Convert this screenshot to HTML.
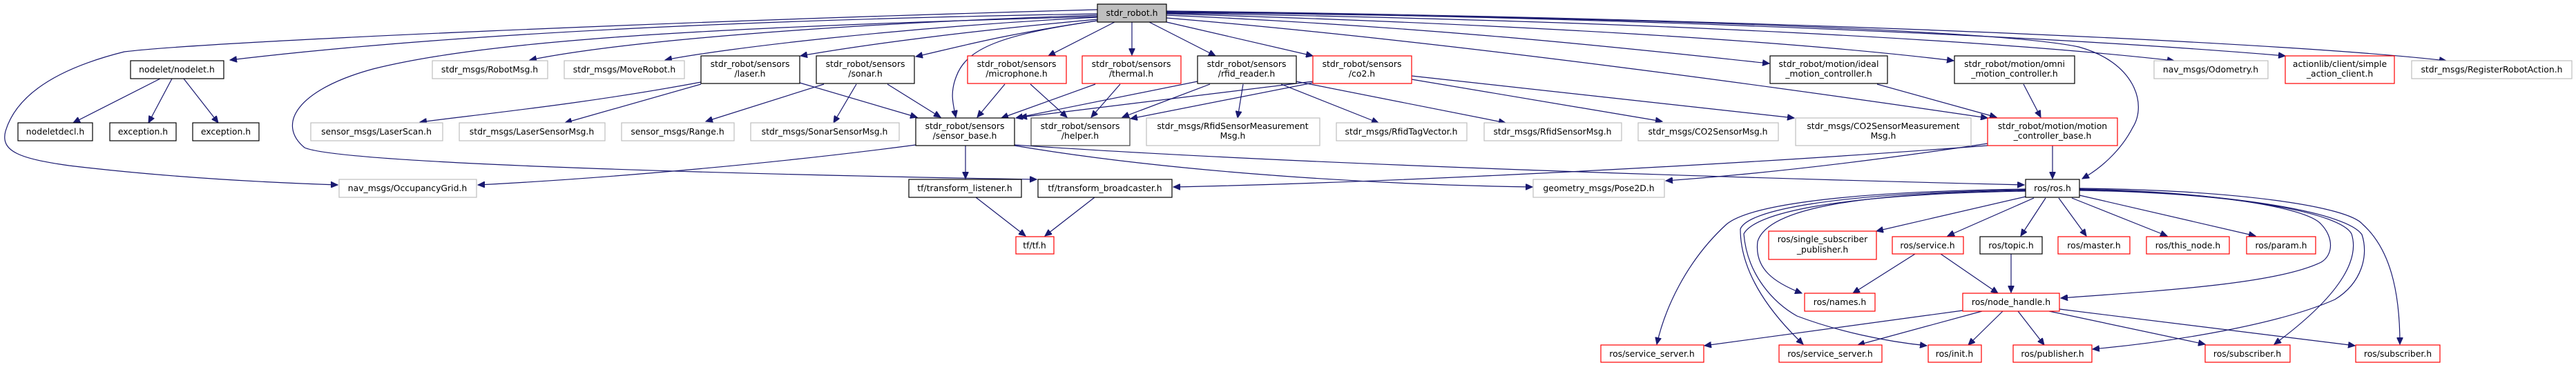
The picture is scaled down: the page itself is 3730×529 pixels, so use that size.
<!DOCTYPE html>
<html><head><meta charset="utf-8"><style>
html,body{margin:0;padding:0;background:#fff;}
svg{display:block;}
text{font-family:"DejaVu Sans","Liberation Sans",sans-serif;font-size:12.4px;fill:#000;text-anchor:middle;}
.e{fill:none;stroke:#191970;stroke-width:1.2;marker-end:url(#a);}
.b{fill:#fff;stroke:#000;stroke-width:1.2;}
.g{fill:#fff;stroke:#bfbfbf;stroke-width:1.2;}
.r{fill:#fff;stroke:#ff0000;stroke-width:1.2;}
</style></head><body>
<svg width="3730" height="529" viewBox="0 0 3730 529" xmlns="http://www.w3.org/2000/svg">
<defs><marker id="a" markerUnits="userSpaceOnUse" markerWidth="11" markerHeight="9" refX="10" refY="4.5" orient="auto"><path d="M0,0 L10,4.5 L0,9 z" fill="#191970" stroke="#191970"/></marker></defs>
<rect width="3730" height="529" fill="#fff"/>
<!-- edges from stdr_robot.h -->
<path class="e" d="M1589,20 C1000,30 600,55 333,87"/>
<path class="e" d="M1589,14 C1000,30 300,60 180,75 C60,105 20,150 8,190 C0,220 30,230 100,240 C250,258 400,265 489,268"/>
<path class="e" d="M1589,24 C1000,40 700,60 540,100 C430,130 400,180 441,214 C500,240 1200,255 1501,260"/>
<path class="e" d="M1589,22 C1200,35 900,60 767,87"/>
<path class="e" d="M1589,25 C1300,40 1050,70 963,87"/>
<path class="e" d="M1589,28 C1400,45 1250,65 1159,81"/>
<path class="e" d="M1589,30 C1450,50 1380,70 1326,82"/>
<path class="e" d="M1589,30 C1450,50 1400,70 1385,110 C1375,135 1380,150 1384,170"/>
<path class="e" d="M1614,32 L1518,81"/>
<path class="e" d="M1639,32 L1639,80"/>
<path class="e" d="M1664,32 L1760,81"/>
<path class="e" d="M1689,32 L1901,81"/>
<path class="e" d="M1689,22 C2100,40 2400,75 2562,92"/>
<path class="e" d="M1689,20 C2200,35 2600,60 2829,88"/>
<path class="e" d="M1689,26 C2100,60 2600,130 2878,171"/>
<path class="e" d="M1689,18 C2400,25 2900,45 3010,68 C3090,90 3110,150 3088,185 C3070,220 3040,245 3015,259"/>
<path class="e" d="M1689,19 C2400,30 2900,60 3148,88"/>
<path class="e" d="M1689,17 C2400,25 3000,55 3309,81"/>
<path class="e" d="M1689,16 C2500,25 3300,60 3542,88"/>
<!-- nodelet -->
<path class="e" d="M232,114 L106,178"/>
<path class="e" d="M249,114 L215,178"/>
<path class="e" d="M266,114 L316,178"/>
<!-- laser / sonar -->
<path class="e" d="M1015,119 C850,150 700,165 608,177"/>
<path class="e" d="M1015,122 L818,178"/>
<path class="e" d="M1158,120 L1328,170"/>
<path class="e" d="M1193,122 L1022,176"/>
<path class="e" d="M1240,122 L1207,178"/>
<path class="e" d="M1285,122 L1362,170"/>
<!-- microphone / thermal / rfid / co2 -->
<path class="e" d="M1455,122 L1415,170"/>
<path class="e" d="M1492,122 L1545,170"/>
<path class="e" d="M1586,122 L1450,171"/>
<path class="e" d="M1622,122 L1580,170"/>
<path class="e" d="M1734,118 L1471,171"/>
<path class="e" d="M1752,122 L1625,170"/>
<path class="e" d="M1901,118 L1477,170"/>
<path class="e" d="M1901,120 L1637,172"/>
<path class="e" d="M1800,122 L1792,171"/>
<path class="e" d="M1855,122 L1996,178"/>
<path class="e" d="M1877,118 L2180,178"/>
<path class="e" d="M2044,110 L2598,171"/>
<path class="e" d="M2044,115 L2407,176"/>
<!-- motion -->
<path class="e" d="M2718,122 L2891,170"/>
<path class="e" d="M2930,122 L2955,170"/>
<path class="e" d="M2972,211 L2972,259"/>
<path class="e" d="M2878,211 C2500,240 2000,265 1699,271"/>
<path class="e" d="M2878,208 C2700,235 2550,252 2412,262"/>
<!-- sensor_base -->
<path class="e" d="M1398,211 L1398,259"/>
<path class="e" d="M1326,210 C1100,240 850,260 692,268"/>
<path class="e" d="M1469,210 C1900,240 2600,260 2931,268"/>
<path class="e" d="M1469,211 C1700,250 2000,268 2219,271"/>
<!-- tf -->
<path class="e" d="M1413,286 L1485,342"/>
<path class="e" d="M1585,286 L1513,342"/>
<!-- ros.h -->
<path class="e" d="M2933,285 L2717,335"/>
<path class="e" d="M2945,287 L2820,342"/>
<path class="e" d="M2962,287 L2926,342"/>
<path class="e" d="M2981,287 L3021,342"/>
<path class="e" d="M3000,287 L3138,342"/>
<path class="e" d="M3011,283 L3266,342"/>
<path class="e" d="M2933,276 C2700,280 2560,300 2545,350 C2540,390 2570,410 2609,425"/>
<path class="e" d="M2933,274 C2650,278 2530,300 2500,325 C2440,380 2410,450 2399,499"/>
<path class="e" d="M2933,275 C2650,280 2530,305 2520,332 C2520,400 2570,460 2611,499"/>
<path class="e" d="M2933,277 C2650,282 2540,310 2525,339 C2530,400 2570,440 2602,458 C2660,480 2730,495 2790,501"/>
<path class="e" d="M3011,274 C3200,278 3340,300 3361,325 C3380,345 3378,370 3361,380 C3300,410 3150,420 2984,432"/>
<path class="e" d="M3011,276 C3250,280 3390,310 3405,339 C3415,370 3400,420 3293,499"/>
<path class="e" d="M3011,273 C3250,276 3400,300 3421,325 C3460,360 3475,420 3475,499"/>
<path class="e" d="M3011,275 C3250,280 3400,310 3420,340 C3430,370 3420,410 3381,434 C3300,470 3150,495 3030,506"/>
<!-- service / topic -->
<path class="e" d="M2773,368 L2683,425"/>
<path class="e" d="M2810,368 L2893,425"/>
<path class="e" d="M2912,368 L2912,424"/>
<!-- node_handle -->
<path class="e" d="M2870,451 L2690,500"/>
<path class="e" d="M2842,450 L2468,501"/>
<path class="e" d="M2900,451 L2850,500"/>
<path class="e" d="M2922,451 L2960,500"/>
<path class="e" d="M2967,451 L3193,499"/>
<path class="e" d="M2982,448 L3410,501"/>
<!-- nodes -->
<rect x="1589" y="6" width="100" height="26" fill="#bfbfbf" stroke="#000" stroke-width="1.2"/><text x="1639" y="23">stdr_robot.h</text>
<rect class="b" x="189" y="88" width="135" height="26"/><text x="256" y="105">nodelet/nodelet.h</text>
<rect class="g" x="626" y="88" width="167" height="26"/><text x="709" y="105">stdr_msgs/RobotMsg.h</text>
<rect class="g" x="817" y="88" width="174" height="26"/><text x="904" y="105">stdr_msgs/MoveRobot.h</text>
<rect class="b" x="1015" y="81" width="143" height="40"/><text x="1086" y="97">stdr_robot/sensors</text><text x="1086" y="111">/laser.h</text>
<rect class="b" x="1182" y="81" width="142" height="40"/><text x="1253" y="97">stdr_robot/sensors</text><text x="1253" y="111">/sonar.h</text>
<rect class="r" x="1401" y="81" width="143" height="40"/><text x="1472" y="97">stdr_robot/sensors</text><text x="1472" y="111">/microphone.h</text>
<rect class="r" x="1567" y="81" width="143" height="40"/><text x="1638" y="97">stdr_robot/sensors</text><text x="1638" y="111">/thermal.h</text>
<rect class="b" x="1734" y="81" width="143" height="40"/><text x="1805" y="97">stdr_robot/sensors</text><text x="1805" y="111">/rfid_reader.h</text>
<rect class="r" x="1901" y="81" width="143" height="40"/><text x="1972" y="97">stdr_robot/sensors</text><text x="1972" y="111">/co2.h</text>
<rect class="b" x="2563" y="81" width="170" height="40"/><text x="2648" y="97">stdr_robot/motion/ideal</text><text x="2648" y="111">_motion_controller.h</text>
<rect class="b" x="2830" y="81" width="174" height="40"/><text x="2917" y="97">stdr_robot/motion/omni</text><text x="2917" y="111">_motion_controller.h</text>
<rect class="g" x="3119" y="88" width="165" height="26"/><text x="3201" y="105">nav_msgs/Odometry.h</text>
<rect class="r" x="3309" y="81" width="158" height="40"/><text x="3388" y="97">actionlib/client/simple</text><text x="3388" y="111">_action_client.h</text>
<rect class="g" x="3492" y="88" width="232" height="26"/><text x="3608" y="105">stdr_msgs/RegisterRobotAction.h</text>
<rect class="b" x="26" y="178" width="108" height="26"/><text x="80" y="195">nodeletdecl.h</text>
<rect class="b" x="159" y="178" width="96" height="26"/><text x="207" y="195">exception.h</text>
<rect class="b" x="279" y="178" width="96" height="26"/><text x="327" y="195">exception.h</text>
<rect class="g" x="450" y="178" width="191" height="26"/><text x="545" y="195">sensor_msgs/LaserScan.h</text>
<rect class="g" x="665" y="178" width="211" height="26"/><text x="770" y="195">stdr_msgs/LaserSensorMsg.h</text>
<rect class="g" x="900" y="178" width="163" height="26"/><text x="981" y="195">sensor_msgs/Range.h</text>
<rect class="g" x="1087" y="178" width="215" height="26"/><text x="1194" y="195">stdr_msgs/SonarSensorMsg.h</text>
<rect class="b" x="1326" y="171" width="143" height="40"/><text x="1397" y="187">stdr_robot/sensors</text><text x="1397" y="201">/sensor_base.h</text>
<rect x="1493" y="171" width="143" height="40" fill="#fff" stroke="#404040" stroke-width="1.2"/><text x="1564" y="187">stdr_robot/sensors</text><text x="1564" y="201">/helper.h</text>
<rect class="g" x="1660" y="171" width="251" height="40"/><text x="1785" y="187">stdr_msgs/RfidSensorMeasurement</text><text x="1785" y="201">Msg.h</text>
<rect class="g" x="1935" y="178" width="189" height="26"/><text x="2029" y="195">stdr_msgs/RfidTagVector.h</text>
<rect class="g" x="2149" y="178" width="199" height="26"/><text x="2248" y="195">stdr_msgs/RfidSensorMsg.h</text>
<rect class="g" x="2372" y="178" width="203" height="26"/><text x="2473" y="195">stdr_msgs/CO2SensorMsg.h</text>
<rect class="g" x="2600" y="171" width="254" height="40"/><text x="2727" y="187">stdr_msgs/CO2SensorMeasurement</text><text x="2727" y="201">Msg.h</text>
<rect class="r" x="2878" y="171" width="188" height="40"/><text x="2972" y="187">stdr_robot/motion/motion</text><text x="2972" y="201">_controller_base.h</text>
<rect class="g" x="491" y="260" width="199" height="26"/><text x="590" y="277">nav_msgs/OccupancyGrid.h</text>
<rect class="b" x="1316" y="260" width="163" height="26"/><text x="1397" y="277">tf/transform_listener.h</text>
<rect class="b" x="1503" y="260" width="194" height="26"/><text x="1600" y="277">tf/transform_broadcaster.h</text>
<rect class="g" x="2220" y="260" width="190" height="26"/><text x="2315" y="277">geometry_msgs/Pose2D.h</text>
<rect class="b" x="2933" y="260" width="78" height="26"/><text x="2972" y="277">ros/ros.h</text>
<rect class="r" x="1471" y="343" width="55" height="25"/><text x="1498" y="360">tf/tf.h</text>
<rect class="r" x="2561" y="335" width="156" height="41"/><text x="2639" y="351">ros/single_subscriber</text><text x="2639" y="366">_publisher.h</text>
<rect class="r" x="2740" y="343" width="103" height="25"/><text x="2791" y="360">ros/service.h</text>
<rect class="b" x="2867" y="343" width="90" height="25"/><text x="2912" y="360">ros/topic.h</text>
<rect class="r" x="2980" y="343" width="104" height="25"/><text x="3032" y="360">ros/master.h</text>
<rect class="r" x="3108" y="343" width="120" height="25"/><text x="3168" y="360">ros/this_node.h</text>
<rect class="r" x="3253" y="343" width="100" height="25"/><text x="3303" y="360">ros/param.h</text>
<rect class="r" x="2613" y="425" width="102" height="26"/><text x="2664" y="442">ros/names.h</text>
<rect class="r" x="2842" y="425" width="140" height="26"/><text x="2912" y="442">ros/node_handle.h</text>
<rect class="r" x="2318" y="500" width="149" height="25"/><text x="2392" y="517">ros/service_server.h</text>
<rect class="r" x="2576" y="500" width="149" height="25"/><text x="2650" y="517">ros/service_server.h</text>
<rect class="r" x="2792" y="500" width="77" height="25"/><text x="2830" y="517">ros/init.h</text>
<rect class="r" x="2915" y="500" width="114" height="25"/><text x="2972" y="517">ros/publisher.h</text>
<rect class="r" x="3193" y="500" width="123" height="25"/><text x="3254" y="517">ros/subscriber.h</text>
<rect class="r" x="3411" y="500" width="122" height="25"/><text x="3472" y="517">ros/subscriber.h</text>
</svg>
</body></html>
